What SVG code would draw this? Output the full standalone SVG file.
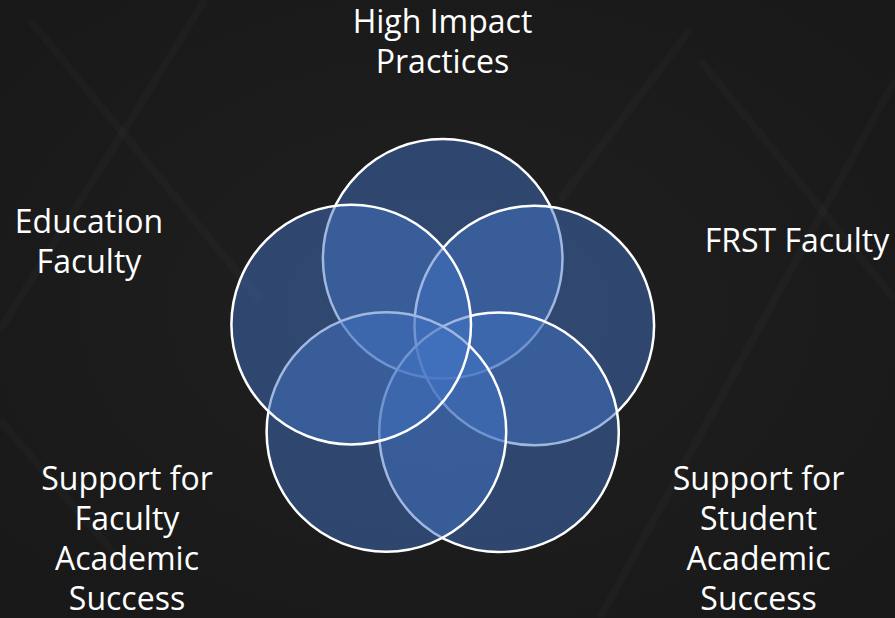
<svg xmlns="http://www.w3.org/2000/svg" width="895" height="618" viewBox="0 0 895 618">
  <defs>
    <radialGradient id="bg" cx="50%" cy="50%" r="70%">
      <stop offset="0" stop-color="#202020"/>
      <stop offset="1" stop-color="#181818"/>
    </radialGradient>
    <style>
      .c { fill: #4272c2; fill-opacity: 0.5; stroke: #ffffff; stroke-width: 2.5; }
      .t { font-family: "Open Sans", "Noto Sans", "Liberation Sans", sans-serif; font-size: 32px; fill: #ffffff; text-anchor: middle; }
      .s { stroke: #ffffff; stroke-opacity: 0.018; stroke-width: 8; fill: none; }
    </style>
  </defs>
  <rect width="895" height="618" fill="url(#bg)"/>
  <g id="background-streaks">
    <path class="s" d="M205 0 L0 330"/>
    <path class="s" d="M30 20 L260 300"/>
    <path class="s" d="M690 30 L560 200"/>
    <path class="s" d="M895 80 L600 618"/>
    <path class="s" d="M700 60 L895 300"/>
    <path class="s" d="M0 420 L120 560"/>
  </g>
  <g id="connectors"/>
  <g id="node-high-impact">
    <circle class="c" cx="442.7" cy="258.8" r="119.8"/>
  </g>
  <g id="node-frst">
    <circle class="c" cx="534.3" cy="325.5" r="119.8"/>
  </g>
  <g id="node-student">
    <circle class="c" cx="499" cy="432.3" r="119.8"/>
  </g>
  <g id="node-faculty-support">
    <circle class="c" cx="386.4" cy="432" r="119.8"/>
  </g>
  <g id="node-education">
    <circle class="c" cx="351.2" cy="324.6" r="119.8"/>
  </g>
  <g id="labels">
    <text class="t" x="442.5" y="33">High Impact</text>
    <text class="t" x="442.5" y="73">Practices</text>
    <text class="t" x="89" y="233">Education</text>
    <text class="t" x="89" y="273">Faculty</text>
    <text class="t" x="797" y="252">FRST Faculty</text>
    <text class="t" x="127" y="490">Support for</text>
    <text class="t" x="127" y="530">Faculty</text>
    <text class="t" x="127" y="570">Academic</text>
    <text class="t" x="127" y="610">Success</text>
    <text class="t" x="758.5" y="490">Support for</text>
    <text class="t" x="758.5" y="530">Student</text>
    <text class="t" x="758.5" y="570">Academic</text>
    <text class="t" x="758.5" y="610">Success</text>
  </g>
</svg>
